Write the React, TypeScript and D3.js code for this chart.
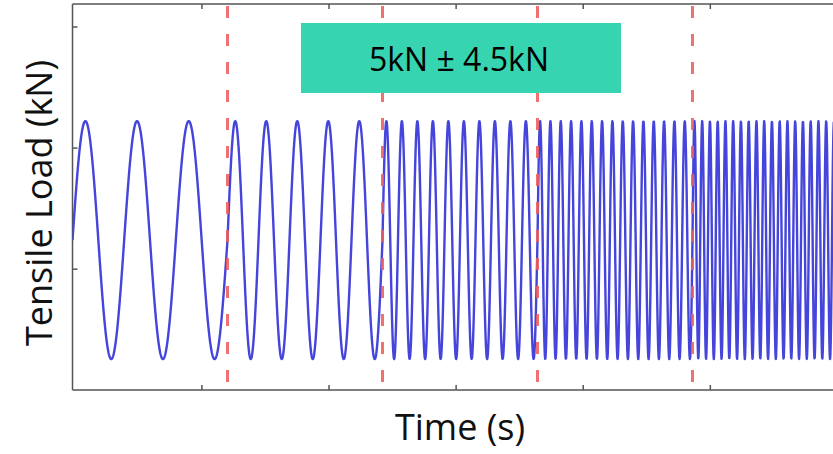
import React from "react";
import * as d3 from "d3";

// ---- data ----
const segmentBounds = [0, 1, 2, 3, 4, 4.95]; // time (segment units)
const segmentCycles = [3, 5, 10, 15, 20]; // cycles per unit time in each segment
const meanLoad = 5; // kN
const ampLoad = 4.5; // kN
const dashTimes = [1, 2, 3, 4];
const xTicks = [0.835, 1.655, 2.475, 3.295, 4.115];
const yTicks = [3.9, 8.48, 13.06];
const boxLabel = "5kN \u00B1 4.5kN";
const xLabel = "Time (s)";
const yLabel = "Tensile Load (kN)";

const W = 833;
const H = 454;

export default function App() {
  const x = d3.scaleLinear().domain([0, 4.9]).range([72.5, 72.5 + 4.9 * 155]);
  const y = d3.scaleLinear().domain([-0.67, 13.93]).range([390, 4]);

  // build signal from segment parameters
  const pts: [number, number][] = [];
  let phaseStart = 0;
  for (let s = 0; s < segmentCycles.length; s++) {
    const t0 = segmentBounds[s];
    const t1 = segmentBounds[s + 1];
    const f = segmentCycles[s];
    const px = x(t1) - x(t0);
    const n = Math.ceil(px * 3);
    for (let i = 0; i <= n; i++) {
      const t = t0 + ((t1 - t0) * i) / n;
      const ph = phaseStart + f * (t - t0);
      pts.push([t, meanLoad + ampLoad * Math.sin(2 * Math.PI * ph)]);
    }
    phaseStart += f * (t1 - t0);
  }
  const line = d3
    .line<[number, number]>()
    .x((d) => x(d[0]))
    .y((d) => y(d[1]));

  const axisColor = "#555";
  const top = y.range()[1];
  const bottom = y.range()[0];
  const left = x.range()[0];

  return (
    <svg
      width={W}
      height={H}
      style={{ position: "fixed", left: 0, top: 0, background: "#fff" }}
    >
      <defs>
        <filter id="soft" x="-5%" y="-5%" width="110%" height="110%">
          <feGaussianBlur stdDeviation="0.6" />
        </filter>
        <clipPath id="plot">
          <rect x={left} y={top} width={W - left + 20} height={bottom - top} />
        </clipPath>
      </defs>

      {/* frame */}
      <line x1={left} x2={W} y1={top} y2={top} stroke={axisColor} strokeWidth={1.5} />
      <line x1={left} x2={W} y1={bottom} y2={bottom} stroke={axisColor} strokeWidth={1.5} />
      <line x1={left} x2={left} y1={top} y2={bottom} stroke={axisColor} strokeWidth={1.5} />

      {/* ticks */}
      {xTicks.map((t, i) => (
        <g key={"xt" + i}>
          <line x1={x(t)} x2={x(t)} y1={bottom} y2={bottom - 5} stroke={axisColor} strokeWidth={1.5} />
          <line x1={x(t)} x2={x(t)} y1={top} y2={top + 5} stroke={axisColor} strokeWidth={1.5} />
        </g>
      ))}
      {yTicks.map((v, i) => (
        <line key={"yt" + i} x1={left} x2={left + 5} y1={y(v)} y2={y(v)} stroke={axisColor} strokeWidth={1.5} />
      ))}

      {/* signal */}
      <g clipPath="url(#plot)" filter="url(#soft)">
        <path d={line(pts) || ""} fill="none" stroke="#4444dc" strokeWidth={2.4} strokeLinejoin="round" />
      </g>

      {/* dashed segment boundaries */}
      {dashTimes.map((t, i) => (
        <line
          key={"d" + i}
          x1={x(t)}
          x2={x(t)}
          y1={top + 2}
          y2={bottom}
          stroke="#ee5c5c"
          strokeOpacity={0.88}
          strokeWidth={3}
          strokeDasharray="12 16"
        />
      ))}

      {/* load box */}
      <rect x={301} y={23} width={320} height={70} fill="#37d4b1" />
      <text
        x={459}
        y={58}
        textAnchor="middle"
        dominantBaseline="central"
        fontFamily="'Open Sans', sans-serif"
        fontSize={32}
        fill="#000"
      >
        {boxLabel}
      </text>

      {/* axis labels */}
      <text
        x={460}
        y={440}
        textAnchor="middle"
        fontFamily="'Open Sans', sans-serif"
        fontSize={36}
        fill="#111"
      >
        {xLabel}
      </text>
      <text
        transform={`translate(52, 203) rotate(-90)`}
        textAnchor="middle"
        fontFamily="'Open Sans', sans-serif"
        fontSize={36}
        fill="#111"
      >
        {yLabel}
      </text>
    </svg>
  );
}
